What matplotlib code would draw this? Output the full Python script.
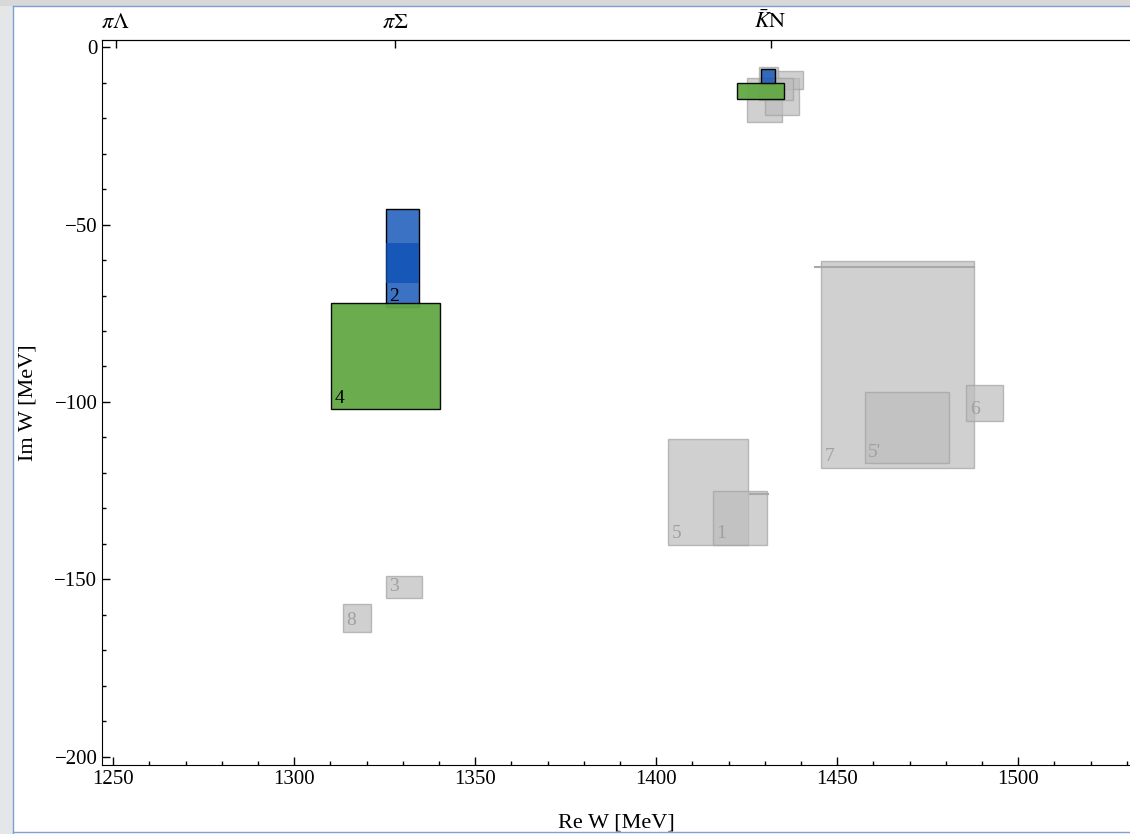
import matplotlib.pyplot as plt
import matplotlib.patches as mpatches
import numpy as np

plt.rcParams['font.family'] = ['Liberation Serif', 'DejaVu Serif']
plt.rcParams['mathtext.fontset'] = 'stix'

# pole regions (Re W range, Im W range) from different analyses
labels = ["5", "1", "7", "5'", "6", "3", "8"]
re_lo = [1403.4, 1415.6, 1445.5, 1457.6, 1485.7, 1325.3, 1313.4]
re_hi = [1425.4, 1430.5, 1487.8, 1480.8, 1495.7, 1335.2, 1321.2]
im_lo = [-140.4, -140.4, -118.5, -117.3, -105.4, -155.1, -164.8]
im_hi = [-110.5, -125.1, -60.3, -97.3, -95.3, -149.0, -157.0]

# gray boxes around the upper (K-bar N) pole, no labels visible
top_re_lo = [1425.2, 1430.2, 1432.8, 1428.3, 1428.3]
top_re_hi = [1434.8, 1439.5, 1440.7, 1433.6, 1437.7]
top_im_lo = [-21.0, -19.1, -11.8, -10.1, -15.0]
top_im_hi = [-8.6, -8.8, -6.8, -5.5, -8.8]

# highlighted results: blue = 2, green = 4 (two poles each)
blue_re = [(1325.3, 1334.4), (1429.1, 1432.8)]
blue_im = [(-73.3, -45.6), (-10.3, -6.1)]
blue_band_im = (-66.5, -55.2)
green_re = [(1310.2, 1340.2), (1422.4, 1435.4)]
green_im = [(-102.1, -72.2), (-14.5, -10.0)]

# small horizontal marks
mark_x = [(1444.0, 1487.8), (1425.9, 1430.9)]
mark_y = [-62.1, -125.9]

thresholds = [1250.7, 1327.8, 1431.6]
threshold_labels = [r'$\pi\Lambda$', r'$\pi\Sigma$', r'$\bar{K}\mathrm{N}$']

fig = plt.figure(figsize=(11.3, 8.34), dpi=100)

# screenshot frame around the plot
fig.patches.append(mpatches.Rectangle((0, 0), 13 / 1130, 1, transform=fig.transFigure,
                                      facecolor='#e4e6e8', edgecolor='none', zorder=0))
fig.patches.append(mpatches.Rectangle((0, 1 - 6 / 834), 1, 6 / 834, transform=fig.transFigure,
                                      facecolor='#d8d8d8', edgecolor='none', zorder=0))
fig.lines.append(plt.Line2D([13 / 1130, 13 / 1130], [0, 1 - 6 / 834], transform=fig.transFigure,
                            color='#7f9fd0', lw=1))
fig.lines.append(plt.Line2D([13 / 1130, 1], [1 - 6 / 834, 1 - 6 / 834], transform=fig.transFigure,
                            color='#7f9fd0', lw=1))
fig.lines.append(plt.Line2D([13 / 1130, 1], [2 / 834, 2 / 834], transform=fig.transFigure,
                            color='#7f9fd0', lw=1))

ax = fig.add_axes([102.3 / 1130, 69 / 834, 1 - 102.3 / 1130, (794 - 69) / 834])

gray_face = '#bdbdbd'
gray_edge = '#a2a2a2'

for lo, hi, ylo, yhi in zip(top_re_lo, top_re_hi, top_im_lo, top_im_hi):
    ax.add_patch(mpatches.Rectangle((lo, ylo), hi - lo, yhi - ylo, facecolor=gray_face,
                                    edgecolor=gray_edge, alpha=0.7, lw=1))

for lab, lo, hi, ylo, yhi in zip(labels, re_lo, re_hi, im_lo, im_hi):
    ax.add_patch(mpatches.Rectangle((lo, ylo), hi - lo, yhi - ylo, facecolor=gray_face,
                                    edgecolor=gray_edge, alpha=0.7, lw=1))
    ax.text(lo + 1.0, ylo + 0.8, lab, color='#a0a0a0', fontsize=14, ha='left', va='bottom')

for (x0, x1), y in zip(mark_x, mark_y):
    ax.plot([x0, x1], [y, y], color='#a8a8a8', lw=1.5)

for (x0, x1), (y0, y1) in zip(blue_re, blue_im):
    ax.add_patch(mpatches.Rectangle((x0, y0), x1 - x0, y1 - y0, facecolor='#0b4fb4',
                                    edgecolor='none', alpha=0.8))
    ax.add_patch(mpatches.Rectangle((x0, y0), x1 - x0, y1 - y0, facecolor='none',
                                    edgecolor='black', lw=1))
x0, x1 = blue_re[0]
ax.add_patch(mpatches.Rectangle((x0, blue_band_im[0]), x1 - x0, blue_band_im[1] - blue_band_im[0],
                                facecolor='#0b4fb4', edgecolor='none', alpha=0.75))

for (x0, x1), (y0, y1) in zip(green_re, green_im):
    ax.add_patch(mpatches.Rectangle((x0, y0), x1 - x0, y1 - y0, facecolor='#62a844',
                                    edgecolor='black', alpha=0.95, lw=1))

ax.text(blue_re[0][0] + 1.0, blue_im[0][0] + 0.6, "2", fontsize=14, color='black', ha='left', va='bottom')
ax.text(green_re[0][0] + 1.0, green_im[0][0] + 0.6, "4", fontsize=14, color='black', ha='left', va='bottom')

ax.set_xlim(1247.0, 1530.9)
ax.set_ylim(-202.3, 2.0)
ax.set_xticks(np.arange(1250, 1531, 50))
ax.set_xticks(np.arange(1250, 1531, 10), minor=True)
ax.set_yticks(np.arange(-200, 1, 50))
ax.set_yticks(np.arange(-200, 1, 10), minor=True)
ax.set_yticklabels(['\u2212200', '\u2212150', '\u2212100', '\u221250', '0'])
ax.tick_params(axis='both', which='both', direction='in', labelsize=15, top=False, right=False)
ax.tick_params(axis='both', which='major', length=6, width=1)
ax.tick_params(axis='both', which='minor', length=3, width=1)
ax.spines['right'].set_visible(False)

ax.set_xlabel('Re W [MeV]', fontsize=16, labelpad=18)
ax.set_ylabel('Im W [MeV]', fontsize=16, labelpad=12)

top = ax.secondary_xaxis('top')
top.set_xticks(thresholds)
top.set_xticklabels(threshold_labels)
top.tick_params(direction='in', length=6, width=1, labelsize=16, pad=5)
top.xaxis.set_minor_locator(plt.NullLocator())

fig.savefig('out.png', dpi=100)
